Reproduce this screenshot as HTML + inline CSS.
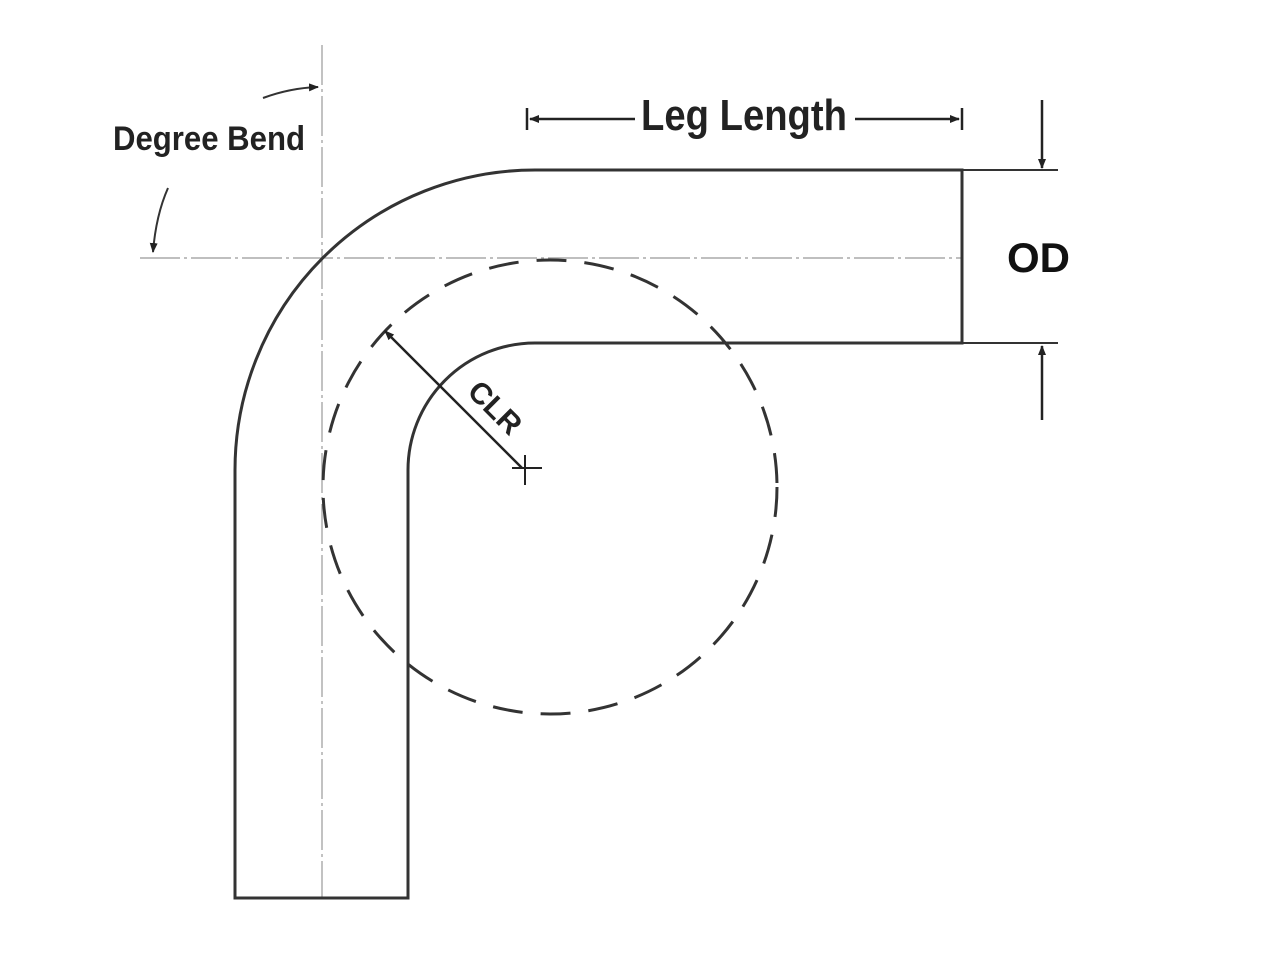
<!DOCTYPE html>
<html><head><style>html,body{margin:0;padding:0;background:#fff;}</style></head>
<body>
<svg width="1280" height="960" xmlns="http://www.w3.org/2000/svg" style="display:block">
<defs>
<marker id="ah" markerWidth="10" markerHeight="8" refX="9" refY="4" orient="auto" markerUnits="userSpaceOnUse"><path d="M0,0 L10,4 L0,8 Z" fill="#222"/></marker>
</defs>
<rect width="1280" height="960" fill="#fff"/>
<line x1="322" y1="45" x2="322" y2="898" stroke="#999" stroke-width="1.2" stroke-dasharray="40,4,3,4"/>
<line x1="140" y1="258" x2="962" y2="258" stroke="#999" stroke-width="1.2" stroke-dasharray="40,4,3,4"/>
<path d="M962,170 L535,170 A300,300 0 0 0 235,470 L235,898 L408,898 L408,470 A127,127 0 0 1 535,343 L962,343 Z" fill="none" stroke="#333" stroke-width="3"/>
<circle cx="550" cy="487" r="227" fill="none" stroke="#333" stroke-width="3" stroke-dasharray="30,18"/>
<line x1="522" y1="468" x2="385" y2="331" stroke="#222" stroke-width="2.5" marker-end="url(#ah)"/>
<line x1="512" y1="468" x2="542" y2="468" stroke="#222" stroke-width="2"/>
<line x1="525" y1="455" x2="525" y2="485" stroke="#222" stroke-width="2"/>
<text x="0" y="0" transform="translate(466,393) rotate(45)" font-family="Liberation Sans, sans-serif" font-weight="bold" font-size="30" fill="#222" textLength="62" lengthAdjust="spacingAndGlyphs">CLR</text>
<line x1="962" y1="170" x2="1058" y2="170" stroke="#333" stroke-width="2"/>
<line x1="962" y1="343" x2="1058" y2="343" stroke="#333" stroke-width="2"/>
<line x1="1042" y1="100" x2="1042" y2="168" stroke="#222" stroke-width="2.5" marker-end="url(#ah)"/>
<line x1="1042" y1="420" x2="1042" y2="346" stroke="#222" stroke-width="2.5" marker-end="url(#ah)"/>
<text x="1007" y="272" font-family="Liberation Sans, sans-serif" font-weight="bold" font-size="42" fill="#111">OD</text>
<line x1="527" y1="108" x2="527" y2="130" stroke="#222" stroke-width="2.5"/>
<line x1="962" y1="108" x2="962" y2="130" stroke="#222" stroke-width="2.5"/>
<line x1="635" y1="119" x2="530" y2="119" stroke="#222" stroke-width="2.5" marker-end="url(#ah)"/>
<line x1="855" y1="119" x2="959" y2="119" stroke="#222" stroke-width="2.5" marker-end="url(#ah)"/>
<text x="641" y="130" font-family="Liberation Sans, sans-serif" font-weight="bold" font-size="44" fill="#222" textLength="206" lengthAdjust="spacingAndGlyphs">Leg Length</text>
<text x="113" y="150" font-family="Liberation Sans, sans-serif" font-weight="bold" font-size="34" fill="#222" textLength="192" lengthAdjust="spacingAndGlyphs">Degree Bend</text>
<path d="M263,98 Q290,88 318,87" fill="none" stroke="#333" stroke-width="2" marker-end="url(#ah)"/>
<path d="M168,188 Q156,215 153,252" fill="none" stroke="#333" stroke-width="2" marker-end="url(#ah)"/>
</svg>
</body></html>
